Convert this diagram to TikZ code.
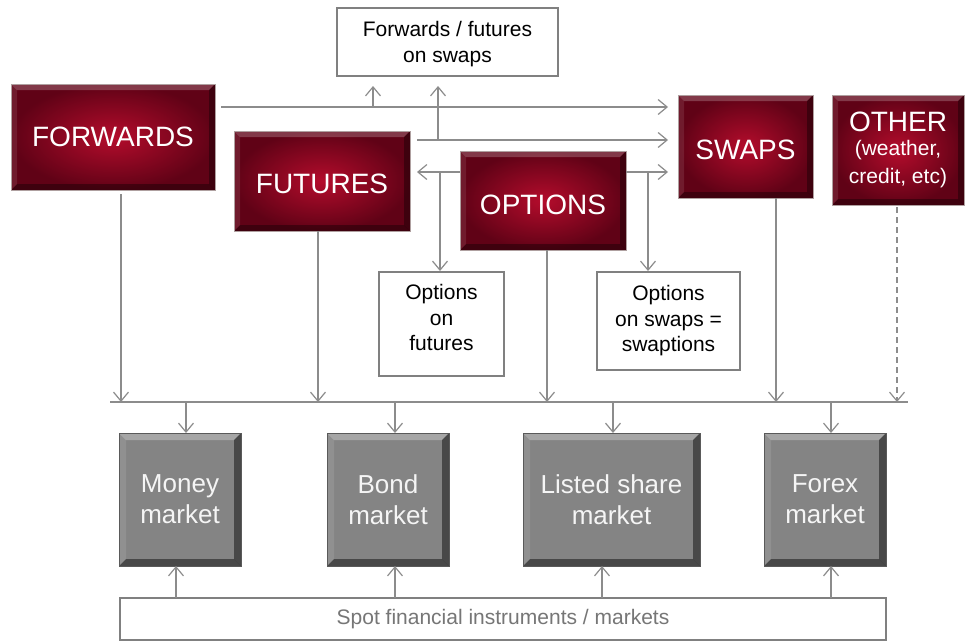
\documentclass[tikz,border=0pt]{standalone}
\usepackage{fontspec}
\setmainfont{Liberation Sans}
\usetikzlibrary{arrows.meta,calc}
\definecolor{lnc}{RGB}{140,140,140}
\definecolor{redin}{RGB}{180,12,44}
\definecolor{redout}{RGB}{96,2,22}
\definecolor{gbox}{RGB}{132,132,132}
\definecolor{bord}{RGB}{128,128,128}
\definecolor{spottxt}{RGB}{118,118,118}
\begin{document}
\begin{tikzpicture}[x=1pt,y=-1pt,
  conn/.style={draw=lnc,line width=1.2pt},
  tip/.style={-{Straight Barb[length=9pt,width=15pt]}},
  redlt/.style={fill=white,opacity=0.22},
  reddk/.style={fill=black,opacity=0.35},
  graylt/.style={fill=white,opacity=0.28},
  graydk/.style={fill=black,opacity=0.45},
  bevel/.style n args={3}{path picture={
    \coordinate (nw) at (path picture bounding box.north west);
    \coordinate (se) at (path picture bounding box.south east);
    \coordinate (ne) at (path picture bounding box.north east);
    \coordinate (sw) at (path picture bounding box.south west);
    \path[#2] (nw) -- (ne) -- ([xshift=-#1,yshift=-#1]ne) -- ([xshift=#1,yshift=-#1]nw) -- cycle;
    \path[#3] (sw) -- (se) -- ([xshift=-#1,yshift=#1]se) -- ([xshift=#1,yshift=#1]sw) -- cycle;
    \path[#3] (ne) -- (se) -- ([xshift=-#1,yshift=#1]se) -- ([xshift=-#1,yshift=-#1]ne) -- cycle;
    \path[#2,opacity=0.1] (nw) -- (sw) -- ([xshift=#1,yshift=#1]sw) -- ([xshift=#1,yshift=-#1]nw) -- cycle;
  }},
  redbox/.style={inner sep=0pt,outer sep=0pt,shade,inner color=redin,outer color=redout,
    draw={rgb,255:red,175;green,160;blue,160},line width=0.8pt,text=white,align=center,
    font=\fontsize{28}{32}\selectfont,
    bevel={6pt}{redlt}{reddk}},
  graybox/.style={inner sep=0pt,outer sep=0pt,fill=gbox,draw={rgb,255:red,90;green,90;blue,90},
    line width=0.6pt,text={rgb,255:red,245;green,245;blue,245},align=center,
    font=\fontsize{26}{31}\selectfont,minimum height=133pt,
    bevel={7pt}{graylt}{graydk}},
  wbox/.style={inner sep=0pt,outer sep=0pt,fill=white,draw=bord,line width=2.4pt,align=center,
    font=\fontsize{21}{25.5}\selectfont}
]
\useasboundingbox (0,0) rectangle (966,641);

% derivative boxes
\node[redbox,minimum width=204pt,minimum height=106pt] (fwd) at (113,137) {FORWARDS};
\node[redbox,minimum width=176pt,minimum height=100pt,text height=24pt,text depth=0pt] (fut) at (322,181) {FUTURES};
\node[redbox,minimum width=166pt,minimum height=99pt,text height=27pt,text depth=0pt] (opt) at (543,200.5) {OPTIONS};
\node[redbox,minimum width=135pt,minimum height=103pt,text height=25pt,text depth=0pt] (swp) at (745.5,146.5) {SWAPS};
\node[redbox,minimum width=132pt,minimum height=110pt] (oth) at (898,150)
  {OTHER\\[-8.5pt]\fontsize{21}{27}\selectfont(weather,\\[-4pt]\fontsize{21}{27}\selectfont credit, etc)};

% white boxes
\node[wbox,minimum width=221pt,minimum height=68pt,text depth=0pt] (fs) at (447.5,42) {Forwards / futures\\on swaps};
\node[wbox,minimum width=125pt,minimum height=104pt,text depth=13pt] (of) at (441.5,324) {Options\\on\\futures};
\node[wbox,minimum width=143pt,minimum height=98pt] (os) at (668.5,321) {Options\\on swaps =\\swaptions};

% markets
\node[graybox,minimum width=122pt] (mm) at (180,499.5) {Money\\market};
\node[graybox,minimum width=122pt] (bm) at (388,499.5) {Bond\\market};
\node[graybox,minimum width=177pt] (ls) at (611.5,499.5) {Listed share\\market};
\node[graybox,minimum width=122pt] (fx) at (825,499.5) {Forex\\market};

% spot
\node[wbox,minimum width=766pt,minimum height=42pt,text=spottxt] (spot) at (503,619)
  {Spot financial instruments / markets};

% top connectors
\coordinate (fA) at ($(fwd.north east)+(6,23)$);
\coordinate (sA) at ($(swp.north west)+(-10,12)$);
\draw[conn,tip] (fA) -- (sA);
\coordinate (fsA) at ($(fs.south)+(-74.5,10)$);
\draw[conn,tip] (fsA |- fA) -- (fsA);

\coordinate (fuA) at ($(fut.north east)+(7,9)$);
\draw[conn,tip] (fuA) -- (fuA -| sA);
\coordinate (fsB) at ($(fs.south)+(-9.5,10)$);
\draw[conn,tip] (fsB |- fuA) -- (fsB);

\coordinate (oW) at ($(opt.north west)+(0,21)$);
\coordinate (oE) at ($(opt.north east)+(0,21)$);
\draw[conn,tip] (oW) -- (oW -| fuA);
\draw[conn,tip] (oE) -- (oE -| sA);
\coordinate (ofT) at ($(of.north)+(-1.5,-1)$);
\draw[conn,tip] (ofT |- oW) -- (ofT);
\coordinate (osT) at ($(os.north)+(-20.5,-1)$);
\draw[conn,tip] (osT |- oE) -- (osT);

% bus
\coordinate (busL) at (110,402);
\coordinate (busR) at (908,402);
\draw[conn] (busL) -- (busR);

\coordinate (d1) at ($(fwd.south)+(8,4)$);
\coordinate (d2) at ($(fut.south)+(-4,0)$);
\coordinate (d3) at ($(opt.south)+(4,0)$);
\coordinate (d4) at ($(swp.south)+(30.5,0)$);
\coordinate (d5) at ($(oth.south)+(-1,2)$);
\draw[conn,tip] (d1) -- (d1 |- busL);
\draw[conn,tip] (d2) -- (d2 |- busL);
\draw[conn,tip] (d3) -- (d3 |- busL);
\draw[conn,tip] (d4) -- (d4 |- busL);
\draw[conn,tip,dash pattern=on 6pt off 4pt] (d5) -- (d5 |- busL);

% bus to markets
\coordinate (m1) at ($(mm.north)+(6,0)$);
\coordinate (m2) at ($(bm.north)+(7,0)$);
\coordinate (m3) at ($(ls.north)+(1.5,0)$);
\coordinate (m4) at ($(fx.north)+(6,0)$);
\foreach \m in {m1,m2,m3,m4} \draw[conn,tip] (\m |- busL) -- (\m);

% spot to markets
\coordinate (u1) at ($(mm.south)+(-4,0)$);
\coordinate (u2) at ($(bm.south)+(7,0)$);
\coordinate (u3) at ($(ls.south)+(-9.5,0)$);
\coordinate (u4) at ($(fx.south)+(6,0)$);
\foreach \u in {u1,u2,u3,u4} \draw[conn,tip] (\u |- spot.north) -- (\u);
\end{tikzpicture}
\end{document}
